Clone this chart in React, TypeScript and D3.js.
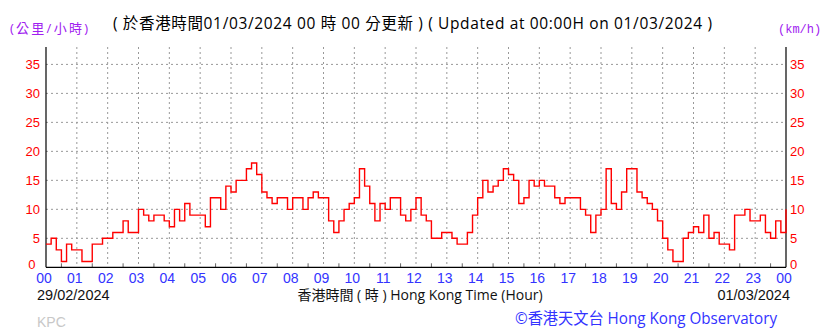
import React from "react";
import * as d3 from "d3";

// 10-minute wind speed (km/h), 00:00 on 29/02/2024 to 00:00 on 01/03/2024
const speeds: number[] = [
  4, 5, 3, 1, 4, 3, 3, 1, 1, 4, 4, 5,
  5, 6, 6, 8, 6, 6, 10, 9, 8, 9, 9, 8,
  7, 10, 8, 11, 9, 9, 9, 7, 12, 12, 10, 14,
  13, 15, 15, 17, 18, 16, 13, 12, 11, 12, 12, 10,
  12, 12, 10, 12, 13, 12, 12, 8, 6, 8, 10, 11,
  12, 17, 14, 11, 8, 11, 10, 12, 12, 9, 8, 10,
  12, 9, 8, 5, 5, 6, 6, 5, 4, 4, 6, 9,
  12, 15, 13, 14, 15, 17, 16, 15, 11, 12, 15, 14,
  15, 14, 14, 12, 11, 12, 12, 12, 10, 9, 6, 9,
  10, 17, 11, 10, 13, 17, 17, 13, 12, 11, 10, 8,
  5, 3, 1, 1, 5, 6, 7, 6, 9, 5, 6, 4,
  4, 3, 9, 9, 10, 8, 8, 9, 6, 5, 8, 6,
  10,
];
const hourLabels: string[] = [
  "00", "01", "02", "03", "04", "05", "06", "07", "08", "09", "10", "11",
  "12", "13", "14", "15", "16", "17", "18", "19", "20", "21", "22", "23", "00",
];
const yTicks: number[] = [0, 5, 10, 15, 20, 25, 30, 35];

const titleText = "( 於香港時間01/03/2024 00 時 00 分更新 ) ( Updated at 00:00H on 01/03/2024 )";

export default function App() {
  const W = 838, H = 331;
  const x = d3.scaleLinear().domain([0, 24]).range([46, 786]);
  const y = d3.scaleLinear().domain([0, 38]).range([267.3, 47]);
  const pts: [number, number][] = speeds.map((v, i) => [i / 6, v]);
  const line = d3
    .line<[number, number]>()
    .x((d) => x(d[0]))
    .y((d) => y(d[1]))
    .curve(d3.curveStepAfter);
  const hours = d3.range(0, 25);
  const halfs = d3.range(0.5, 24, 1);
  const sans = "'Liberation Sans', Arial, sans-serif";
  const cjk = "'Open Sans', 'Noto Sans CJK TC', sans-serif";
  return (
    <svg width={W} height={H} style={{ position: "absolute", left: 0, top: 0, background: "#fff" }}>
      {/* grid */}
      {hours.slice(1, 24).map((h) => (
        <line key={"vg" + h} x1={x(h)} x2={x(h)} y1={y(38)} y2={y(0)} stroke="#999" strokeWidth={1} strokeDasharray="2,3" />
      ))}
      {yTicks.slice(1).map((v) => (
        <line key={"hg" + v} x1={x(0)} x2={x(24)} y1={y(v)} y2={y(v)} stroke="#999" strokeWidth={1} strokeDasharray="2,3" />
      ))}
      {halfs.map((h) => (
        <line key={"ht" + h} x1={x(h)} x2={x(h)} y1={y(0) - 4} y2={y(0)} stroke="#666" strokeWidth={1} />
      ))}
      {/* axes */}
      <line x1={x(0)} x2={x(0)} y1={y(38)} y2={y(0)} stroke="#000" strokeWidth={1.2} />
      <line x1={x(24)} x2={x(24)} y1={y(38)} y2={y(0)} stroke="#000" strokeWidth={1.2} />
      <line x1={x(0)} x2={x(24)} y1={y(0)} y2={y(0)} stroke="#000" strokeWidth={1.2} />
      {/* data */}
      <path d={line(pts) || ""} fill="none" stroke="#ff0000" strokeWidth={1.4} />
      {/* y labels */}
      {yTicks.map((v) => (
        <g key={"yl" + v} fontFamily={sans} fontSize={13} fill="#ff0000">
          <text x={v === 0 ? 35.5 : 40} y={v === 0 ? y(v) + 1.5 : y(v)} dy={v === 0 ? 0 : "0.35em"} textAnchor="end">{v}</text>
          <text x={790} y={v === 0 ? y(v) + 1.5 : y(v)} dy={v === 0 ? 0 : "0.35em"} textAnchor="start">{v}</text>
        </g>
      ))}
      {/* x labels */}
      {hourLabels.map((l, i) => (
        <text key={"xl" + i} x={x(i) - 2} y={282.5} textAnchor="middle" fontFamily={sans} fontSize={14} fill="#3333ff">{l}</text>
      ))}
      {/* titles */}
      <text x={10} y={33} fontFamily={cjk} fontSize={13} fill="#a020f0" textLength={78} lengthAdjust="spacing">(公里/小時)</text>
      <text x={778} y={33} fontFamily="'Liberation Mono', monospace" fontSize={12} fill="#a020f0">(km/h)</text>
      <text x={113} y={29} fontFamily={cjk} fontSize={15.5} fill="#000" textLength={599} lengthAdjust="spacing">{titleText}</text>
      <text x={37} y={300} fontFamily={sans} fontSize={14.5} fill="#111">29/02/2024</text>
      <text x={420} y={300} textAnchor="middle" fontFamily={cjk} fontSize={14} fill="#111">香港時間 ( 時 ) Hong Kong Time (Hour)</text>
      <text x={790} y={300} textAnchor="end" fontFamily={sans} fontSize={14.5} fill="#111">01/03/2024</text>
      <text x={37} y={327} fontFamily={sans} fontSize={14} fill="#c8c8c8">KPC</text>
      <text x={515} y={324} fontFamily={cjk} fontSize={15.5} fill="#3333ff" textLength={262} lengthAdjust="spacingAndGlyphs">©香港天文台 Hong Kong Observatory</text>
    </svg>
  );
}
